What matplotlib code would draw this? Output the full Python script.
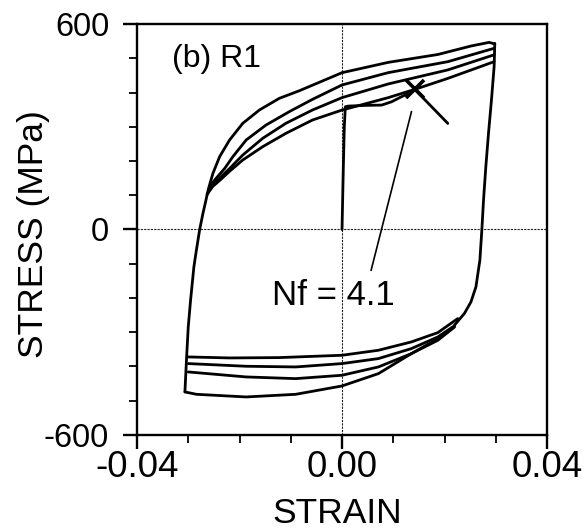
import numpy as np
import matplotlib
matplotlib.use('Agg')
import matplotlib.pyplot as plt

plt.rcParams['font.family'] = ['Liberation Sans', 'DejaVu Sans']
plt.rcParams['axes.unicode_minus'] = False

# ---- digitised hysteresis branches (strain, stress MPa) ---------------------
# initial tension from zero, yield plateau, up to the crack mark
init_eps = [0.0, 0.00026, 0.00045, 0.00065, 0.00129, 0.00452, 0.00774, 0.00968, 0.01161, 0.01323, 0.01419]
init_sig = [0.0, 183.1, 300.0, 358.4, 360.4, 362.3, 363.3, 373.0, 387.7, 399.3, 409.1]

# fracture drop after the X
drop_eps = [0.01419, 0.02065]
drop_sig = [409.1, 309.7]

# common unloading branch at max strain
unl_eps = [0.02981, 0.02968, 0.02916, 0.02858, 0.02806, 0.02761, 0.02729, 0.02690, 0.02613, 0.02516, 0.02387, 0.02194]
unl_sig = [543.5, 475.3, 377.9, 280.5, 183.1, 85.7, 0.0, -89.6, -167.5, -211.4, -245.4, -279.5]

# common reloading branch at min strain
rel_eps = [-0.03065, -0.03032, -0.03000, -0.02955, -0.02890, -0.02841, -0.02777, -0.02713, -0.02660, -0.02630]
rel_sig = [-474.3, -372.1, -284.4, -206.5, -109.1, -60.0, 0.0, 47.3, 82.0, 103.0]

# upper (tension) branches
up1_eps = [-0.02630, -0.02600, -0.02518, -0.02388, -0.02194, -0.01936, -0.01612, -0.01223, -0.00835, 0.0, 0.00903, 0.01871, 0.02516, 0.02871, 0.02981]
up1_sig = [103.0, 122.0, 164.1, 212.6, 261.3, 310.1, 348.9, 383.0, 405.0, 457.8, 488.0, 511.0, 535.7, 546.4, 541.5]
up2_eps = [-0.02630, -0.02560, -0.02453, -0.02291, -0.02130, -0.01870, -0.01482, -0.01029, -0.00576, 0.0, 0.00903, 0.02065, 0.02968]
up2_sig = [103.0, 130.0, 150.0, 178.0, 212.6, 261.3, 305.1, 344.0, 380.0, 422.0, 458.0, 490.0, 529.0]
up3_eps = [-0.02630, -0.02540, -0.02388, -0.02194, -0.01936, -0.01547, -0.01094, -0.00576, 0.0, 0.00903, 0.02065, 0.02968]
up3_sig = [103.0, 128.0, 150.0, 178.0, 217.5, 266.3, 310.1, 348.9, 385.0, 425.0, 466.0, 510.0]
up4_eps = [-0.02630, -0.02520, -0.02388, -0.02194, -0.01936, -0.01547, -0.01094, -0.00576, 0.0, 0.00903, 0.01419, 0.02065, 0.02968]
up4_sig = [103.0, 126.0, 143.0, 170.0, 202.9, 241.8, 280.8, 319.7, 348.7, 385.0, 409.1, 441.2, 490.0]

# lower (compression) branches
lo1_eps = [-0.03000, -0.02194, -0.01226, 0.0, 0.00710, 0.01355, 0.01871, 0.02258]
lo1_sig = [-372.1, -375.0, -374.0, -367.2, -352.6, -328.2, -301.0, -260.1]
lo2_eps = [-0.03000, -0.01871, -0.00903, 0.0, 0.00710, 0.01355, 0.01871, 0.02194]
lo2_sig = [-391.5, -399.3, -401.3, -391.5, -376.9, -347.7, -313.6, -281.0]
lo3_eps = [-0.03000, -0.01871, -0.00903, 0.0, 0.00710, 0.01355, 0.01871, 0.02194]
lo3_sig = [-415.9, -430.5, -435.4, -425.6, -401.3, -362.3, -318.5, -283.0]
lo4_eps = [-0.03065, -0.02839, -0.01871, -0.00903, 0.0, 0.00710, 0.01355, 0.01871, 0.02194]
lo4_sig = [-474.3, -481.2, -488.9, -481.2, -456.8, -420.8, -362.3, -323.4, -285.0]

fail_eps, fail_sig = 0.01419, 409.1
leader_eps = [0.01355, 0.00568]
leader_sig = [343.8, -118.8]

fig = plt.figure(figsize=(5.88, 5.31), dpi=100)
ax = fig.add_axes([0.2330, 0.1808, 0.6973, 0.7740])

ax.axhline(0, color='#222222', lw=0.8, ls=(0, (2, 1)), zorder=1)
ax.axvline(0, color='#222222', lw=0.8, ls=(0, (2, 1)), zorder=1)

kw = dict(color='k', lw=2.0, solid_joinstyle='round', solid_capstyle='round', zorder=3)
for e, s in [(init_eps, init_sig), (drop_eps, drop_sig), (unl_eps, unl_sig), (rel_eps, rel_sig),
             (up1_eps, up1_sig), (up2_eps, up2_sig), (up3_eps, up3_sig), (up4_eps, up4_sig),
             (lo1_eps, lo1_sig), (lo2_eps, lo2_sig), (lo3_eps, lo3_sig), (lo4_eps, lo4_sig)]:
    ax.plot(e, s, **kw)

ax.plot(fail_eps, fail_sig, marker='x', ms=13, mew=2.6, color='k', zorder=4)
ax.plot(leader_eps, leader_sig, color='k', lw=1.2, zorder=3)

ax.text(-0.0017, -220, 'Nf = 4.1', ha='center', va='baseline', fontsize=25)
ax.text(-0.0332, 474, '(b) R1', ha='left', va='baseline', fontsize=23)

ax.set_xlim(-0.04, 0.04)
ax.set_ylim(-600, 600)
ax.set_xticks([-0.04, 0.0, 0.04], ['-0.04', '0.00', '0.04'])
ax.set_xticks(np.arange(-0.03, 0.031, 0.01), minor=True)
ax.set_yticks([-600, 0, 600], ['-600', '0', '600'])
ax.set_yticks(np.arange(-500, 501, 100), minor=True)

for sp in ax.spines.values():
    sp.set_linewidth(1.7)
ax.tick_params(which='major', direction='out', length=10, width=1.7)
ax.tick_params(which='minor', direction='out', length=6, width=1.3)
ax.tick_params(axis='x', which='major', labelsize=26.5, pad=1)
ax.tick_params(axis='y', which='major', labelsize=23.5, pad=10)

ax.set_xlabel('STRAIN', fontsize=25.5)
ax.set_ylabel('STRESS (MPa)', fontsize=25.5)
ax.xaxis.set_label_coords(0.488, -0.15)
ax.yaxis.set_label_coords(-0.212, 0.49)

fig.savefig('out.png', dpi=100)
